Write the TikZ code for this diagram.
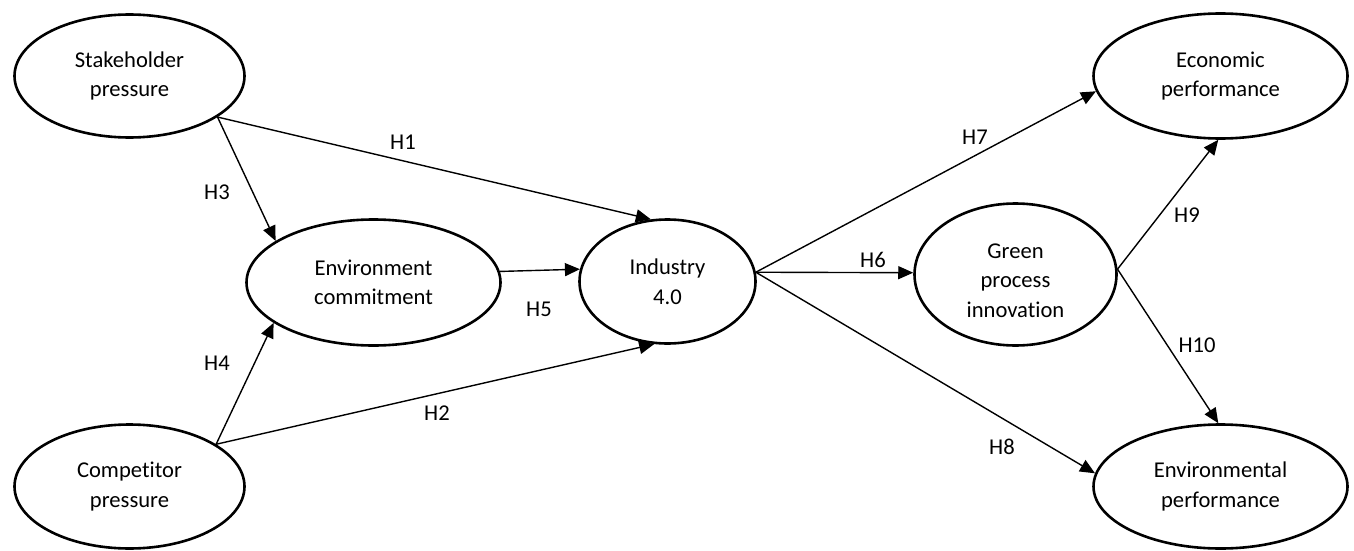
\documentclass[tikz,border=0pt]{standalone}
\usepackage{fontspec}
\setmainfont{Carlito}[Ligatures=NoCommon]
\usetikzlibrary{shapes.geometric,arrows.meta}
\begin{document}
\begin{tikzpicture}[x=1pt,y=-1pt,
  construct/.style={ellipse,draw,line width=2.6pt,inner sep=0pt,align=center,
    font=\fontsize{22.6}{29.5}\selectfont},
  hyp/.style={font=\fontsize{22.6}{27}\selectfont,inner sep=0pt},
  link/.style={line width=1.4pt,-{Triangle[length=15pt,width=13pt]}}
]
\useasboundingbox[fill=white] (0,0) rectangle (1354,551);

\node[construct,minimum width=230pt,minimum height=123pt] (stake) at (129.5,76) {Stakeholder\\pressure};
\node[construct,minimum width=230pt,minimum height=124pt] (comp) at (129.5,486.5) {Competitor\\pressure};
\node[construct,minimum width=254pt,minimum height=126pt] (envc) at (373.5,282.5) {Environment\\commitment};
\node[construct,minimum width=176pt,minimum height=124pt] (ind) at (667.5,281.5) {Industry\\4.0};
\node[construct,minimum width=202pt,minimum height=142pt] (green) at (1015.5,274.5) {\\[-3pt]Green\\process\\innovation};
\node[construct,minimum width=254pt,minimum height=125pt] (econ) at (1220.5,76) {Economic\\performance};
\node[construct,minimum width=254pt,minimum height=124pt] (envp) at (1220.5,486.5) {Environmental\\performance};

\draw[link] (stake.-25) -- (ind.105);
\draw[link] (stake.-25) -- (envc.157);
\draw[link] (comp.26) -- (envc.202);
\draw[link] (comp.26) -- (ind.-102);
\draw[link] (envc.5.7) -- (ind.172.4);
\draw[link] (ind.6) -- (green.179);
\draw[link] (ind.6) -- (econ.187.5);
\draw[link] (ind.6) -- (envp.174.5);
\draw[link] (green.3) -- (econ.268);
\draw[link] (green.3) -- (envp.92);

\node[hyp] (h1) at (403,142) {H1};
\node[hyp] (h2) at (437,413) {H2};
\node[hyp] (h3) at (217,192) {H3};
\node[hyp] (h4) at (217,363) {H4};
\node[hyp] (h5) at (539,309) {H5};
\node[hyp] (h6) at (873,260) {H6};
\node[hyp] (h7) at (975,137) {H7};
\node[hyp] (h8) at (1002,447) {H8};
\node[hyp] (h9) at (1187,215) {H9};
\node[hyp] (h10) at (1197,345) {H10};
\end{tikzpicture}
\end{document}
